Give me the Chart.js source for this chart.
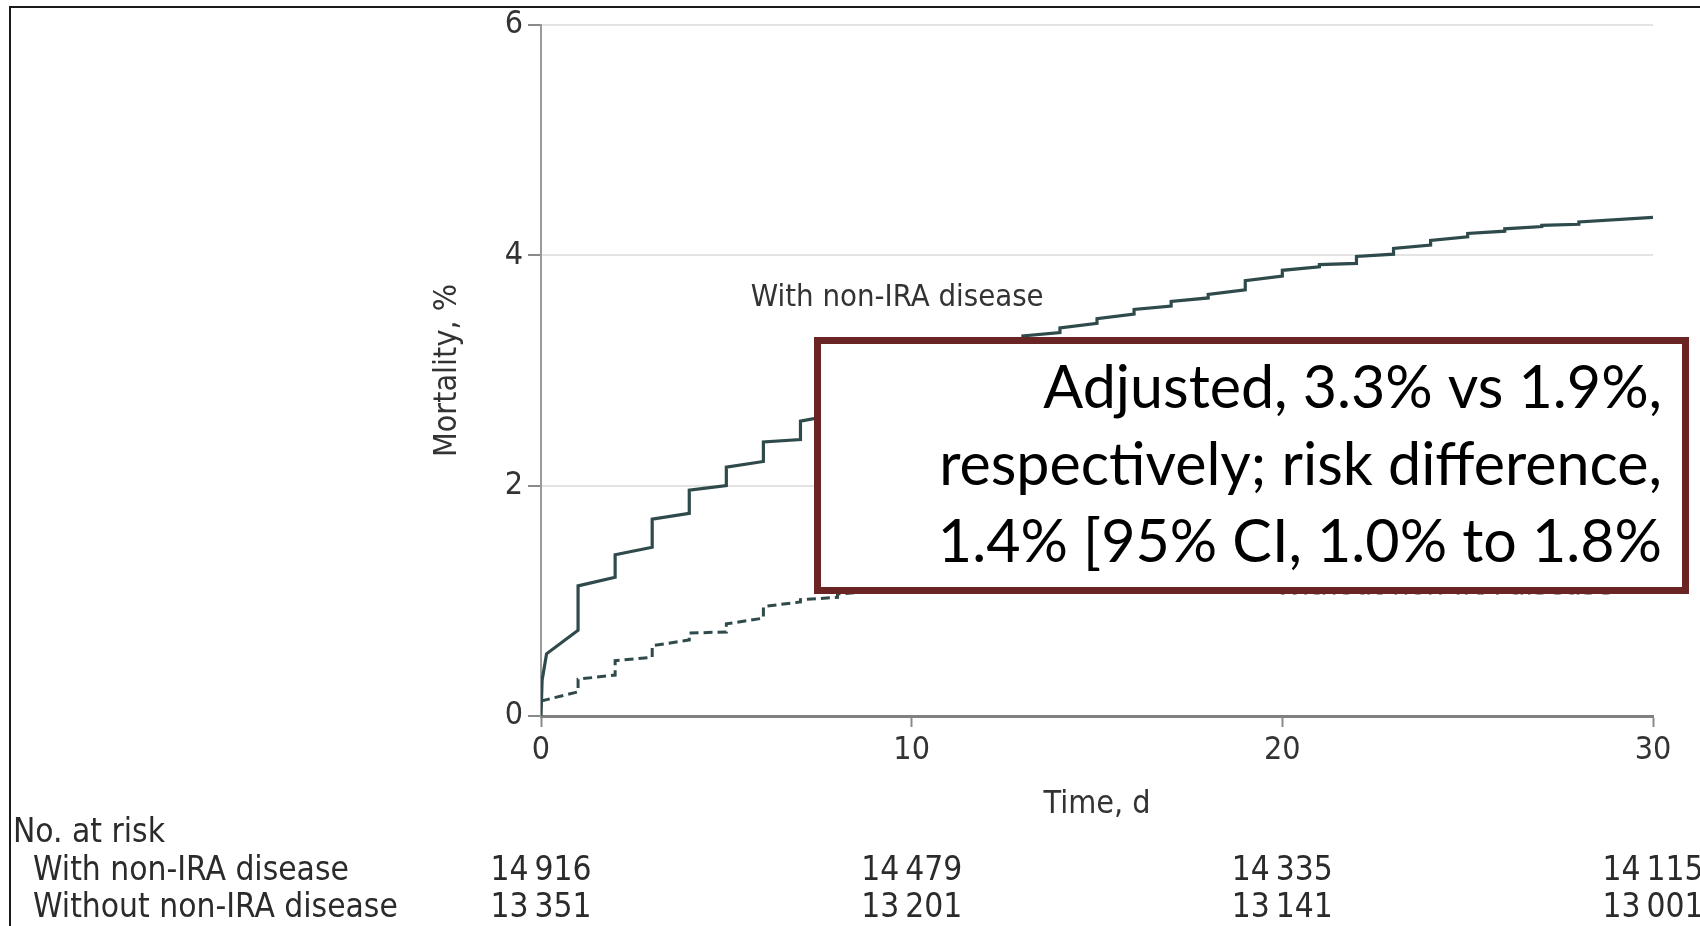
<!DOCTYPE html>
<html>
<head>
<meta charset="utf-8">
<script src="https://cdn.jsdelivr.net/npm/chart.js@4.4.1/dist/chart.umd.min.js"></script>
<style>
  html, body { margin: 0; padding: 0; background: #fff; }
  canvas { display: block; }
</style>
</head>
<body>
<canvas id="km" width="1700" height="926"></canvas>
<script>
// ── Curves (day, cumulative mortality %) ──────────────────────────────────────
// Each day has a "before" and "after" point so the jumps come out as steps.
const withDays = [0, 0.03, 0.15, 1, 1, 2, 2, 3, 3, 4, 4, 5, 5, 6, 6, 7, 7, 8, 8, 9, 9, 10, 10, 11,
  11, 12, 12, 13, 13, 14, 14, 15, 15, 16, 16, 17, 17, 18, 18, 19, 19, 20, 20, 21, 21, 22, 22, 23,
  23, 24, 24, 25, 25, 26, 26, 27, 27, 28, 28, 30];
const withMort = [0, 0.31, 0.54, 0.745, 1.13, 1.205, 1.40, 1.465, 1.71, 1.76, 1.96, 2.00, 2.16, 2.21,
  2.38, 2.40, 2.56, 2.62, 2.72, 2.78, 2.86, 2.91, 2.98, 3.03, 3.10, 3.15, 3.21, 3.26, 3.30, 3.33,
  3.37, 3.41, 3.45, 3.49, 3.53, 3.56, 3.60, 3.63, 3.66, 3.70, 3.78, 3.82, 3.87, 3.90, 3.92, 3.93,
  3.99, 4.01, 4.06, 4.09, 4.13, 4.16, 4.19, 4.21, 4.23, 4.25, 4.26, 4.27, 4.29, 4.33];

const withoutDays = [0, 1, 1, 2, 2, 3, 3, 4, 4, 5, 5, 6, 6, 7, 7, 8, 8, 9, 9, 10, 10, 11, 11, 12,
  12, 13, 13, 14, 14, 15, 15, 16, 16, 17, 17, 18, 18, 19, 19, 20, 20, 21, 21, 22, 22, 23, 23, 24,
  24, 25, 25, 26, 26, 27, 27, 28, 28, 30];
const withoutMort = [0.13, 0.21, 0.32, 0.355, 0.48, 0.51, 0.61, 0.66, 0.72, 0.73, 0.80, 0.85, 0.95,
  0.99, 1.01, 1.03, 1.06, 1.08, 1.11, 1.14, 1.18, 1.21, 1.24, 1.27, 1.30, 1.33, 1.36, 1.38, 1.41,
  1.43, 1.46, 1.48, 1.51, 1.53, 1.56, 1.57, 1.60, 1.61, 1.64, 1.65, 1.68, 1.69, 1.71, 1.72, 1.74,
  1.75, 1.77, 1.78, 1.80, 1.81, 1.83, 1.84, 1.86, 1.87, 1.88, 1.89, 1.91, 1.93];

// ── Number-at-risk table ──────────────────────────────────────────────────────
const riskTimes = [0, 10, 20, 30];
const riskWith = [14916, 14479, 14335, 14115];
const riskWithout = [13351, 13201, 13141, 13001];
const groupNames = ['With non-IRA disease', 'Without non-IRA disease'];

// ── Overlay note ──────────────────────────────────────────────────────────────
const noteLines = [
  'Adjusted, 3.3% vs 1.9%,',
  'respectively; risk difference,',
  '1.4% [95% CI, 1.0% to 1.8%',
];

const LINE_COLOR = '#2f4a4b';
const TEXT_COLOR = '#2b2b2b';
const NARROW = "'DejaVu Sans Condensed', 'Liberation Sans Narrow', sans-serif";
const TICK_FONT = { family: NARROW, size: 32 };

// font size so that `text` comes out `target` px wide
const _mctx = document.createElement('canvas').getContext('2d');
function fitSize(text, family, target) {
  _mctx.font = `100px ${family}`;
  return 100 * target / _mctx.measureText(text).width;
}

function fmtCount(n) {
  return String(n).replace(/(\d+)(\d{3})$/, '$1\u2009$2');
}

function _toXY(xArr, yArr) {
  return xArr.map((x, i) => ({ x, y: yArr[i] }));
}

const annotations = {
  id: 'annotations',
  beforeDraw(chart) {
    const { ctx, width, height } = chart;
    ctx.save();
    ctx.fillStyle = '#fff';
    ctx.fillRect(0, 0, width, height);
    // figure frame (top + left edge)
    ctx.strokeStyle = '#1a1a1a';
    ctx.lineWidth = 2;
    ctx.beginPath();
    ctx.moveTo(10, height);
    ctx.lineTo(10, 7);
    ctx.lineTo(width, 7);
    ctx.stroke();
    ctx.restore();
  },
  afterDatasetsDraw(chart) {
    const { ctx, scales: { x, y } } = chart;
    const size = fitSize(groupNames[0], NARROW, 293);
    ctx.save();
    ctx.font = `${size}px ${NARROW}`;
    ctx.fillStyle = '#333';
    ctx.textAlign = 'left';
    ctx.textBaseline = 'middle';
    ctx.fillText(groupNames[0], x.getPixelForValue(5.66), y.getPixelForValue(3.63));
    // mostly hidden behind the note box; only its foot shows
    ctx.fillStyle = '#999';
    ctx.fillText(groupNames[1], x.getPixelForValue(19.8), y.getPixelForValue(1.12));
    ctx.restore();
  },
  afterDraw(chart) {
    const { ctx, scales: { x } } = chart;
    ctx.save();

    // boxed note laid over the curves
    ctx.fillStyle = '#fff';
    ctx.fillRect(814, 337, 875, 257);
    ctx.strokeStyle = '#6b2424';
    ctx.lineWidth = 7;
    ctx.strokeRect(817.5, 340.5, 868, 250);
    const noteSize = fitSize(noteLines[1], 'Lato', 723);
    ctx.font = `${noteSize}px Lato`;
    ctx.fillStyle = '#000';
    ctx.textAlign = 'right';
    ctx.textBaseline = 'alphabetic';
    noteLines.forEach((t, i) => ctx.fillText(t, 1662, 408 + i * 77));

    // number at risk
    const tSize = fitSize(groupNames[1], NARROW, 365);
    ctx.font = `${tSize}px ${NARROW}`;
    ctx.fillStyle = TEXT_COLOR;
    ctx.textBaseline = 'middle';
    ctx.textAlign = 'left';
    ctx.fillText('No. at risk', 13, 833);
    ctx.fillText(groupNames[0], 33, 871);
    ctx.fillText(groupNames[1], 33, 908);
    ctx.textAlign = 'center';
    riskTimes.forEach((t, i) => {
      const px = x.getPixelForValue(t);
      ctx.fillText(fmtCount(riskWith[i]), px, 871);
      ctx.fillText(fmtCount(riskWithout[i]), px, 908);
    });
    ctx.restore();
  },
};

new Chart(document.getElementById('km').getContext('2d'), {
  type: 'line',
  data: {
    datasets: [
      {
        label: groupNames[0],
        data: _toXY(withDays, withMort),
        borderColor: LINE_COLOR,
        borderWidth: 3.2,
        pointRadius: 0,
        tension: 0,
        fill: false,
      },
      {
        label: groupNames[1],
        data: _toXY(withoutDays, withoutMort),
        borderColor: LINE_COLOR,
        borderWidth: 3,
        borderDash: [9, 5],
        pointRadius: 0,
        tension: 0,
        fill: false,
      },
    ],
  },
  options: {
    responsive: false,
    animation: false,
    events: [],
    layout: { padding: { left: 400, top: 25, right: 47, bottom: 102 } },
    plugins: {
      legend: { display: false },
      tooltip: { enabled: false },
    },
    scales: {
      x: {
        type: 'linear',
        min: 0,
        max: 30,
        afterFit: (s) => { s.height = 108; },
        ticks: { stepSize: 10, color: '#333', font: TICK_FONT, padding: 4, maxRotation: 0 },
        grid: { drawOnChartArea: false, drawTicks: true, tickLength: 11, tickColor: '#8a8a8a', tickWidth: 2 },
        border: { display: true, color: '#808080', width: 3 },
        title: { display: true, text: 'Time, d', color: '#333', font: TICK_FONT, padding: { top: 0, bottom: 0 } },
      },
      y: {
        min: 0,
        max: 6,
        afterFit: (s) => { s.width = 141; },
        ticks: { stepSize: 2, color: '#333', font: TICK_FONT, padding: 5 },
        grid: {
          color: (c) => (c.tick && c.tick.value === 0 ? 'rgba(0,0,0,0)' : '#e3e3e3'),
          lineWidth: 2,
          tickLength: 13,
          tickColor: '#8a8a8a',
          tickWidth: 2,
        },
        border: { display: true, color: '#9a9a9a', width: 2 },
        title: { display: true, text: 'Mortality, %', color: '#333', font: TICK_FONT, padding: { top: 28, bottom: 0 } },
      },
    },
  },
  plugins: [annotations],
});
</script>
</body>
</html>
